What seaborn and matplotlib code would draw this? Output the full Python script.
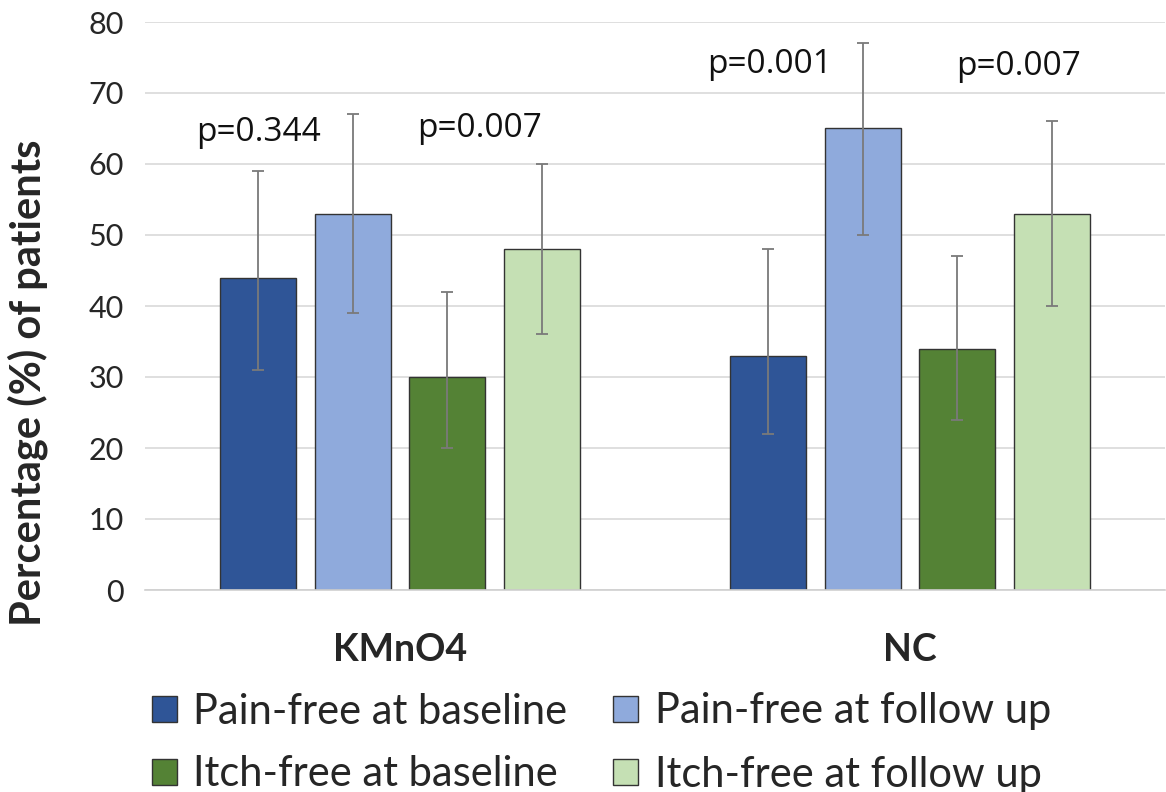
import numpy as np
import pandas as pd
import matplotlib
matplotlib.use('Agg')
import matplotlib.pyplot as plt
import seaborn as sns

groups = ['KMnO4', 'NC']
series = ['Pain-free at baseline', 'Pain-free at follow up',
          'Itch-free at baseline', 'Itch-free at follow up']
values = {
    'KMnO4': [44, 53, 30, 48],
    'NC': [33, 65, 34, 53],
}
err_low = {
    'KMnO4': [31, 39, 20, 36],
    'NC': [22, 50, 24, 40],
}
err_high = {
    'KMnO4': [59, 67, 42, 60],
    'NC': [48, 77, 47, 66],
}
p_labels = ['p=0.344', 'p=0.007', 'p=0.001', 'p=0.007']
p_pos = [(-0.277, 63.3), (0.155, 63.8), (0.724, 72.8), (1.212, 72.6)]
colors = ['#2F5597', '#8FAADC', '#548235', '#C5E0B4']

rows = []
for g in groups:
    for s, v in zip(series, values[g]):
        rows.append({'group': g, 'series': s, 'value': v})
df = pd.DataFrame(rows)

sns.set_style('white')
plt.rcParams['font.family'] = ['Lato', 'DejaVu Sans']

fig = plt.figure(figsize=(11.66, 7.92), dpi=100)
ax = fig.add_axes([145 / 1166, 1 - 590 / 792, 1020 / 1166, 568 / 792])

sns.barplot(
    data=df, x='group', y='value', hue='series',
    order=groups, hue_order=series, palette=colors, saturation=1,
    width=0.745, gap=0.2, errorbar=None,
    edgecolor='#333333', linewidth=1.0, ax=ax, zorder=2
)

# asymmetric error bars at each bar centre
bar_sets = list(ax.containers)
for si, cont in enumerate(bar_sets):
    for gi, bar in enumerate(cont):
        g = groups[gi]
        cx = bar.get_x() + bar.get_width() / 2
        v = values[g][si]
        ax.errorbar(
            cx, v,
            yerr=[[v - err_low[g][si]], [err_high[g][si] - v]],
            fmt='none', ecolor='#7a7a7a', elinewidth=1.3,
            capsize=4, capthick=1.3, zorder=3
        )

for lab, (px, py) in zip(p_labels, p_pos):
    ax.text(px, py, lab, ha='center', va='baseline', fontsize=24,
            family=['Open Sans', 'DejaVu Sans'], color='#111111')

ax.set_xlim(-0.5, 1.5)
ax.set_ylim(0, 80)
ax.set_yticks(np.arange(0, 81, 10))
ax.yaxis.grid(True, color='#D9D9D9', linewidth=1.2, zorder=0)
ax.set_axisbelow(True)
for side in ['top', 'right', 'left']:
    ax.spines[side].set_visible(False)
ax.spines['bottom'].set_color('#D0D0D0')
ax.spines['bottom'].set_linewidth(1.2)

ax.tick_params(axis='y', length=0, labelsize=22, pad=15)
ax.tick_params(axis='x', length=0, labelsize=27, pad=31)
for t in ax.get_xticklabels():
    t.set_fontweight('bold')
ax.set_xlabel('')
ax.set_ylabel('Percentage (%) of patients', fontsize=30, fontweight='bold')
ax.yaxis.set_label_coords(-0.095, 0.364)

handles, labels = ax.get_legend_handles_labels()
ax.get_legend().remove()
order = [0, 2, 1, 3]
fig.legend(
    [handles[i] for i in order], [labels[i] for i in order],
    ncol=2, loc='upper left', bbox_to_anchor=(114 / 1166, 1 - 655 / 792),
    frameon=False, fontsize=30, handlelength=0.6, handleheight=0.6,
    handletextpad=0.4, columnspacing=1.1, labelspacing=0.6
)

fig.savefig('out.png', dpi=100)
